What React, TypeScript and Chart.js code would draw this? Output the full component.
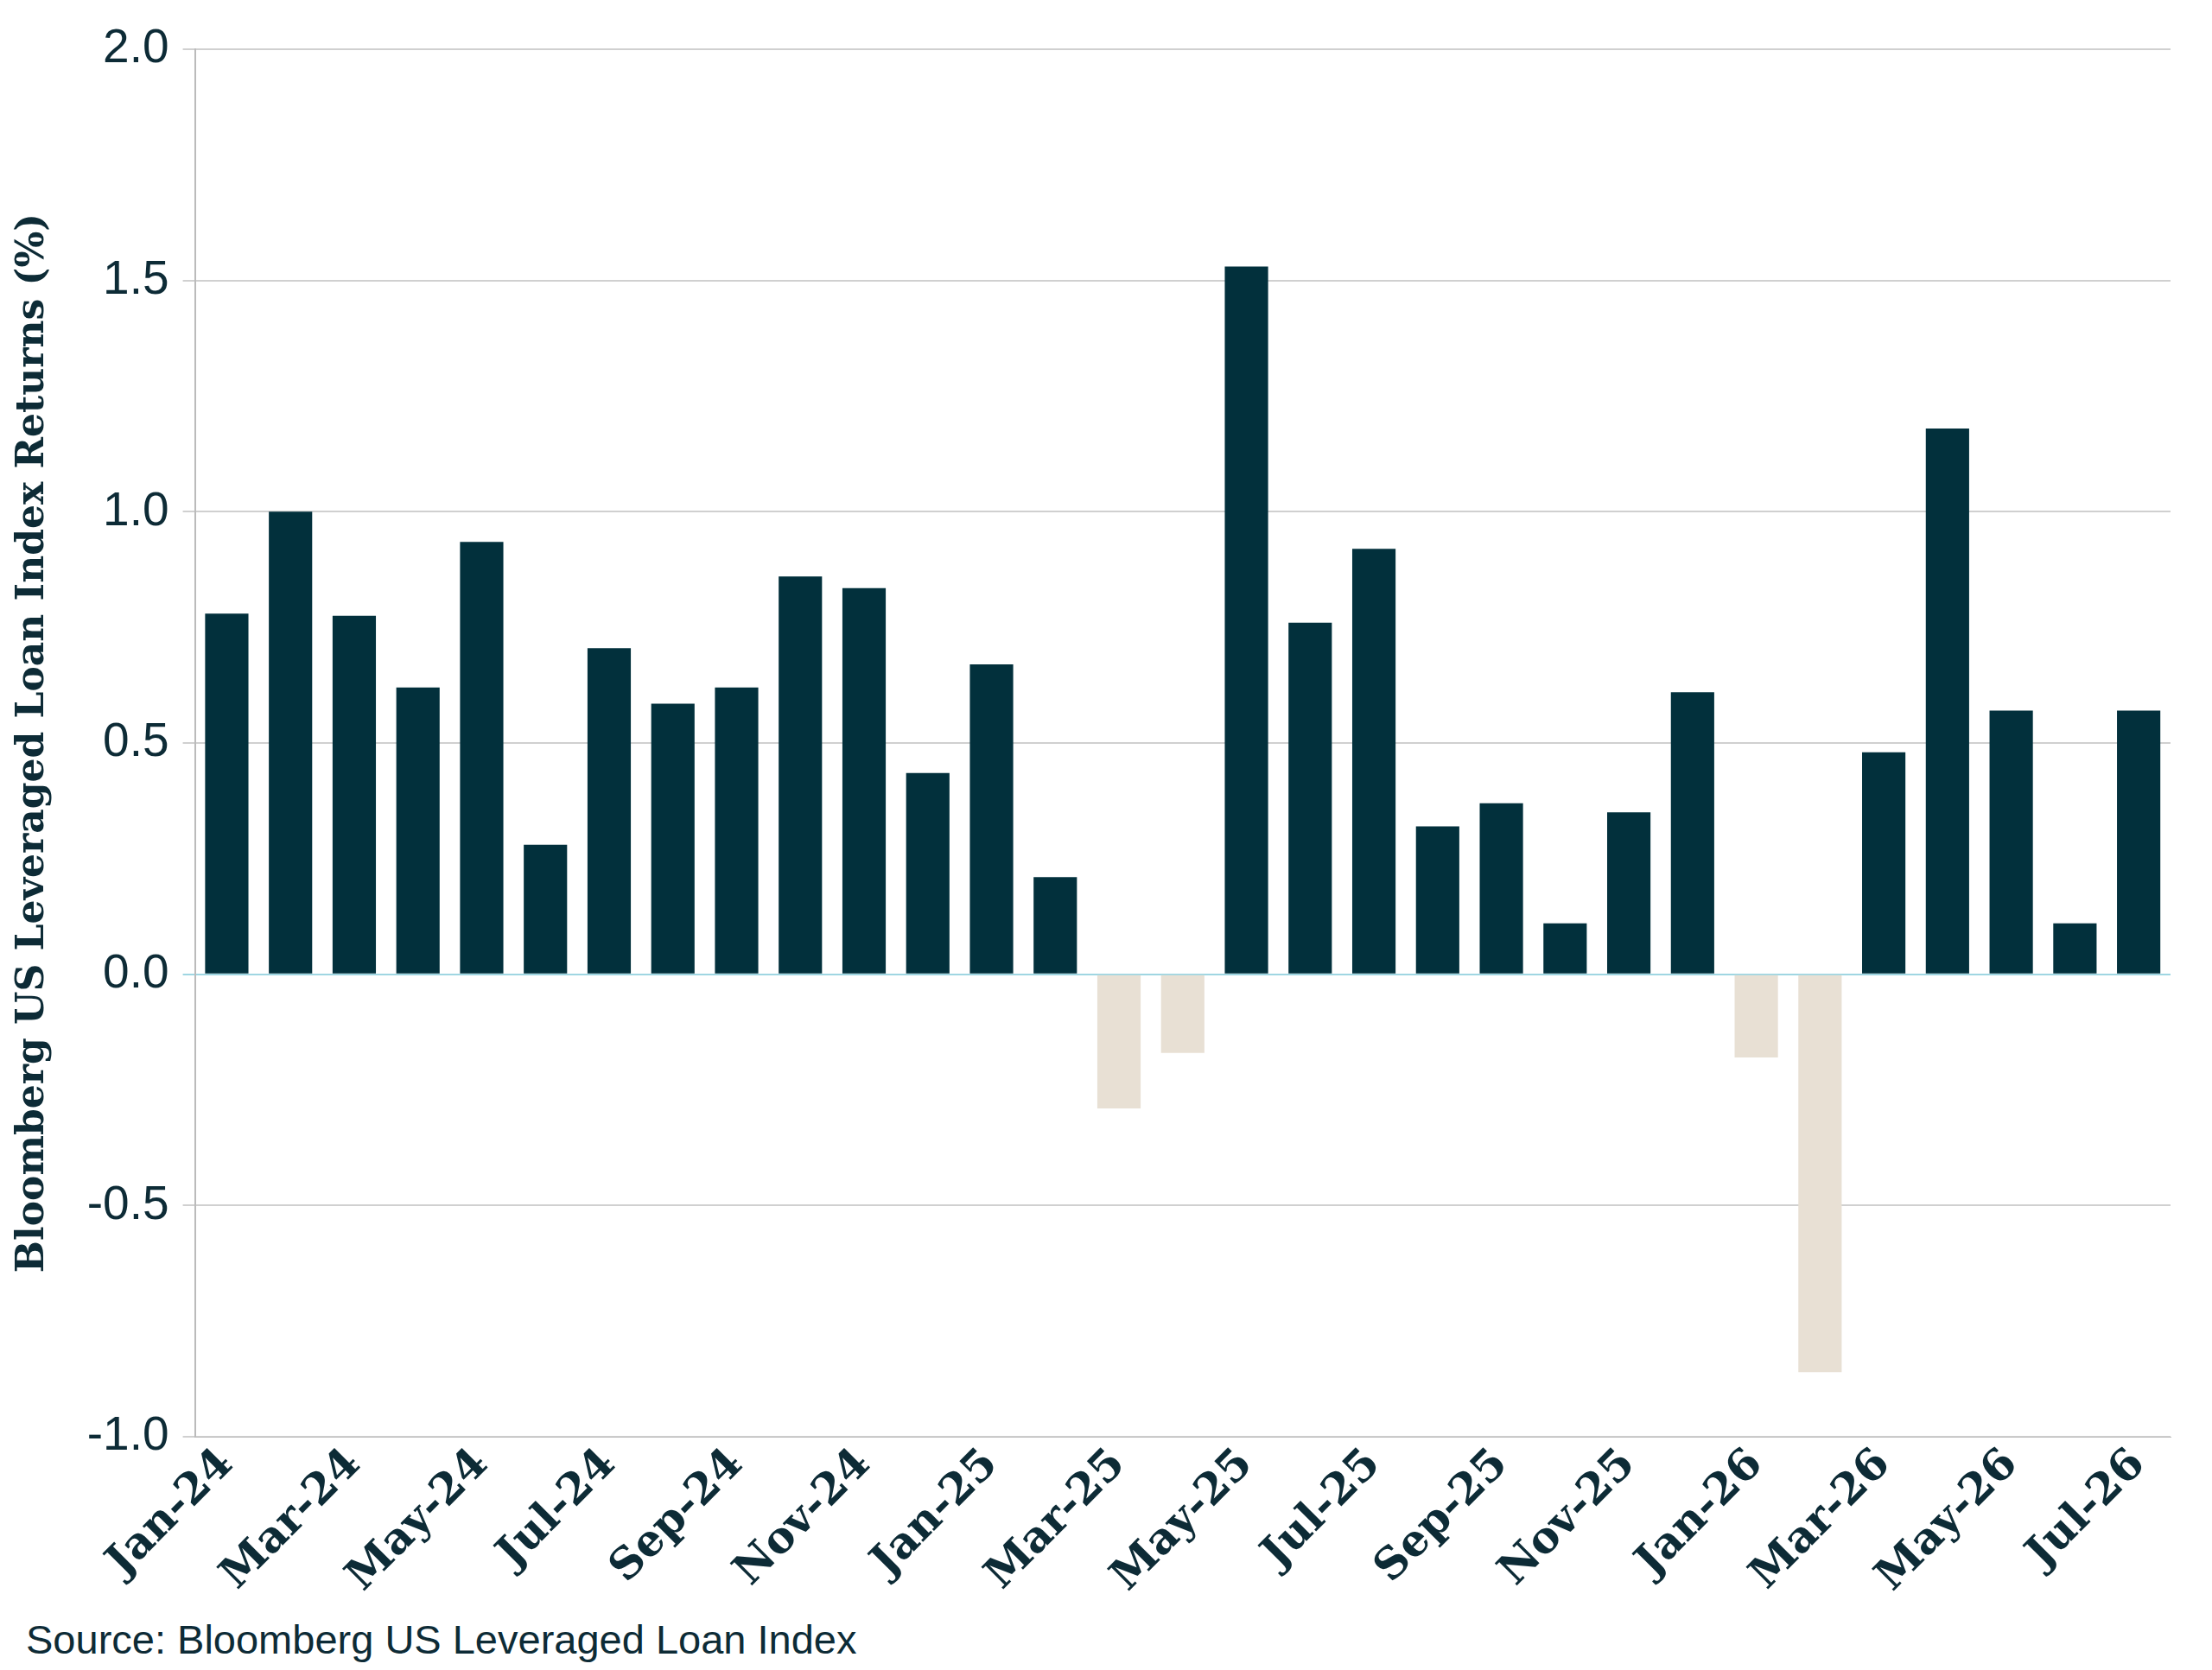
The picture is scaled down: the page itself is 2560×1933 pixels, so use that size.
import React, { useEffect, useRef } from "react";
import { Chart, registerables } from "chart.js";
Chart.register(...registerables);

const months = ["Jan-24","Feb-24","Mar-24","Apr-24","May-24","Jun-24","Jul-24","Aug-24","Sep-24","Oct-24","Nov-24","Dec-24","Jan-25","Feb-25","Mar-25","Apr-25","May-25","Jun-25","Jul-25","Aug-25","Sep-25","Oct-25","Nov-25","Dec-25","Jan-26","Feb-26","Mar-26","Apr-26","May-26","Jun-26","Jul-26"];
const returns = [0.78,1.0,0.775,0.62,0.935,0.28,0.705,0.585,0.62,0.86,0.835,0.435,0.67,0.21,-0.29,-0.17,1.53,0.76,0.92,0.32,0.37,0.11,0.35,0.61,-0.18,-0.86,0.48,1.18,0.57,0.11,0.57];
const yTitle = "Bloomberg US Leveraged Loan Index Returns (%)";
const source = "Source: Bloomberg US Leveraged Loan Index";

export default function App() {
  const ref = useRef<HTMLCanvasElement>(null);
  useEffect(() => {
    const chart = new Chart(ref.current!, {
      type: "bar",
      data: {
        labels: months,
        datasets: [{
          data: returns,
          backgroundColor: returns.map(v => v >= 0 ? "#02303c" : "#e8e0d4"),
          barPercentage: 0.68,
          categoryPercentage: 1,
        }],
      },
      options: {
        animation: false,
        responsive: false,
        layout: { padding: { top: 36, right: 40 } },
        plugins: { legend: { display: false }, tooltip: { enabled: false } },
        scales: {
          x: {
            grid: { display: false, drawTicks: false },
            border: { color: "#bbbbbb" },
            ticks: {
              autoSkip: false, maxRotation: 45, minRotation: 45,
              color: "#0d2b36",
              font: { family: "'DejaVu Serif', serif", weight: "bold", size: 50 },
              callback: (_v: any, i: number) => (i % 2 === 0 ? months[i] : ""),
            },
          },
          y: {
            min: -1, max: 2,
            ticks: { stepSize: 0.5, color: "#0d2b36", padding: 16,
              font: { family: "'Liberation Sans', Arial", size: 55 },
              callback: (v: any) => Number(v).toFixed(1) },
            grid: {
              color: (c: any) => (c.tick && c.tick.value === 0 ? "#9fd6e2" : "#d0d0d0"),
              lineWidth: 2, tickLength: 14,
            },
            border: { color: "#bbbbbb", width: 2 },
            title: { display: true, text: yTitle, color: "#0d2b36", padding: { bottom: 20 },
              font: { family: "'DejaVu Serif', serif", weight: "bold", size: 44 } },
          },
        },
      },
    });
    return () => chart.destroy();
  }, []);
  return (
    <div style={{ position: "relative", width: 2544, height: 1917 }}>
      <canvas ref={ref} width={2544} height={1850} style={{ display: "block" }} />
      <div style={{ position: "absolute", left: 22, top: 1862, fontFamily: "'Liberation Sans', Arial", fontSize: 47, color: "#0d2b36" }}>{source}</div>
    </div>
  );
}
